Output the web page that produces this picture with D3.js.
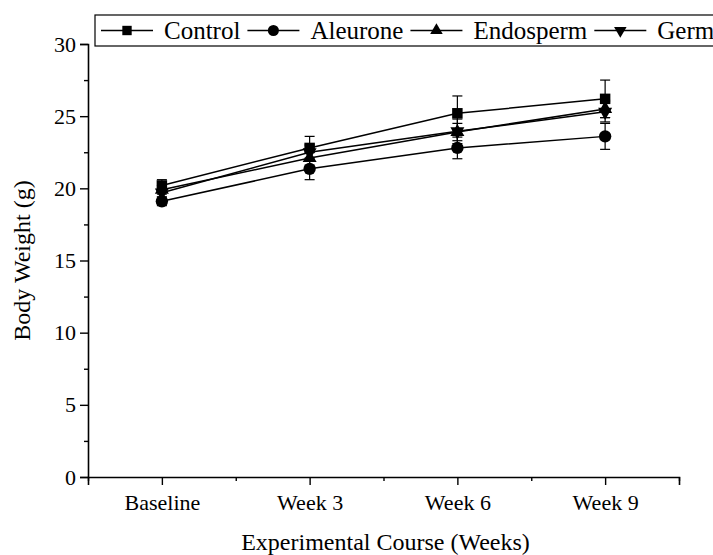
<!DOCTYPE html>
<html>
<head>
<meta charset="utf-8">
<script src="https://cdn.jsdelivr.net/npm/d3@7"></script>
<style>
  html, body { margin: 0; padding: 0; background: #fff; }
  svg { display: block; }
  text { font-family: "Liberation Serif", "Times New Roman", serif; fill: #000; }
</style>
</head>
<body>
<svg id="chart" width="713" height="555"></svg>
<script>
// Time points
const weeks = ["Baseline", "Week 3", "Week 6", "Week 9"];

// Mean body weight (g) per group
const control   = [20.2, 22.8, 25.2, 26.2];
const aleurone  = [19.1, 21.35, 22.8, 23.6];
const endosperm = [19.9, 22.1, 23.9, 25.5];
const germ      = [19.7, 22.5, 23.95, 25.3];

// Standard deviations
const controlSD   = [0.4, 0.8, 1.2, 1.3];
const aleuroneSD  = [0.3, 0.75, 0.75, 0.9];
const endospermSD = [0.3, 0.5, 0.6, 0.6];
const germSD      = [0.3, 0.5, 0.85, 0.7];

const yTicks = [0, 5, 10, 15, 20, 25, 30];
const yMinorTicks = [2.5, 7.5, 12.5, 17.5, 22.5, 27.5];

const groups = [
  { name: "Control",   values: control,   sd: controlSD,   symbol: d3.symbolSquare },
  { name: "Aleurone",  values: aleurone,  sd: aleuroneSD,  symbol: d3.symbolCircle },
  { name: "Endosperm", values: endosperm, sd: endospermSD, symbol: d3.symbolTriangle },
  { name: "Germ",      values: germ,      sd: germSD,      symbol: "down" }
];

const FONT = "'Liberation Serif', 'Times New Roman', serif";
const svg = d3.select("#chart");
const plotLeft = 88, plotRight = 679, plotTop = 44, plotBottom = 477;

const x = d3.scalePoint().domain(weeks).range([plotLeft, plotRight]).padding(0.5);
const xMinor = d3.scaleLinear().domain([-0.5, 3.5]).range([plotLeft, plotRight]);
const y = d3.scaleLinear().domain([0, 30]).range([plotBottom, plotTop]);

// Marker helpers (down-pointing triangle = rotated triangle)
function symbolPath(sym, size) {
  const s = sym === "down" ? d3.symbolTriangle : sym;
  return d3.symbol().type(s).size(size)();
}
function symbolTransform(sym, cx, cy) {
  return sym === "down" ? `translate(${cx},${cy}) rotate(180)` : `translate(${cx},${cy})`;
}
function symbolSize(sym) {
  if (sym === d3.symbolSquare) return 110;
  if (sym === d3.symbolCircle) return 120;
  return 85;
}

// Axes
const yAxis = svg.append("g").attr("transform", `translate(${plotLeft},0)`)
  .call(d3.axisLeft(y).tickValues(yTicks).tickSize(8).tickPadding(4).tickFormat(d3.format("d")));
const yMinor = svg.append("g").attr("transform", `translate(${plotLeft},0)`)
  .call(d3.axisLeft(y).tickValues(yMinorTicks).tickSize(4).tickFormat(""));
const xAxis = svg.append("g").attr("transform", `translate(0,${plotBottom})`)
  .call(d3.axisBottom(x).tickSize(8).tickPadding(9));
const xMinorAxis = svg.append("g").attr("transform", `translate(0,${plotBottom})`)
  .call(d3.axisBottom(xMinor).tickValues([-0.5, 0.5, 1.5, 2.5, 3.5]).tickSize(4).tickFormat(""));

[yAxis, yMinor, xAxis, xMinorAxis].forEach(g => {
  g.attr("font-family", FONT).attr("font-size", 22);
  g.selectAll("path.domain").attr("stroke", "#000").attr("stroke-width", 1.6);
  g.selectAll(".tick line").attr("stroke", "#000").attr("stroke-width", 1.4);
  g.selectAll(".tick text").attr("fill", "#000");
});
yMinor.select("path.domain").remove();
xMinorAxis.select("path.domain").remove();

// Axis titles
svg.append("text")
  .attr("x", (plotLeft + plotRight) / 2 + 2).attr("y", 550)
  .attr("text-anchor", "middle")
  .attr("font-size", 24)
  .text("Experimental Course (Weeks)");

svg.append("text")
  .attr("transform", `translate(30,${(plotTop + plotBottom) / 2}) rotate(-90)`)
  .attr("text-anchor", "middle")
  .attr("font-size", 24)
  .text("Body Weight (g)");

// Connecting lines
const line = d3.line().x((d, i) => x(weeks[i])).y(d => y(d));
const plot = svg.append("g");
groups.forEach(gp => {
  plot.append("path").datum(gp.values)
    .attr("d", line).attr("fill", "none")
    .attr("stroke", "#000").attr("stroke-width", 1.5);
});

// Error bars
const cap = 5;
groups.forEach(gp => {
  gp.values.forEach((v, i) => {
    const cx = x(weeks[i]);
    const y1 = y(v - gp.sd[i]), y2 = y(v + gp.sd[i]);
    plot.append("line").attr("x1", cx).attr("x2", cx).attr("y1", y1).attr("y2", y2)
      .attr("stroke", "#000").attr("stroke-width", 1.2);
    [y1, y2].forEach(yy => {
      plot.append("line").attr("x1", cx - cap).attr("x2", cx + cap).attr("y1", yy).attr("y2", yy)
        .attr("stroke", "#000").attr("stroke-width", 1.2);
    });
  });
});

// Markers
groups.forEach(gp => {
  gp.values.forEach((v, i) => {
    plot.append("path")
      .attr("d", symbolPath(gp.symbol, symbolSize(gp.symbol)))
      .attr("transform", symbolTransform(gp.symbol, x(weeks[i]), y(v)))
      .attr("fill", "#000");
  });
});

// Legend: entries laid out left to right inside a framed box
const legend = svg.append("g");
const box = legend.append("rect")
  .attr("x", 95).attr("y", 15).attr("height", 31)
  .attr("fill", "#fff").attr("stroke", "#000").attr("stroke-width", 1.2);

const ly = 30.5, lineLen = 52, textGap = 11, itemGap = 7;
let cursor = 101;
groups.forEach(gp => {
  const item = legend.append("g");
  item.append("line").attr("x1", cursor).attr("x2", cursor + lineLen).attr("y1", ly).attr("y2", ly)
    .attr("stroke", "#000").attr("stroke-width", 1.5);
  item.append("path")
    .attr("d", symbolPath(gp.symbol, symbolSize(gp.symbol) * 0.8))
    .attr("transform", symbolTransform(gp.symbol, cursor + lineLen / 2, ly))
    .attr("fill", "#000");
  const t = item.append("text").attr("x", cursor + lineLen + textGap).attr("y", ly + 8.5)
    .attr("font-size", 25).text(gp.name);
  cursor += lineLen + textGap + t.node().getComputedTextLength() + itemGap;
});
box.attr("width", cursor - 95 + 20);
</script>
</body>
</html>
